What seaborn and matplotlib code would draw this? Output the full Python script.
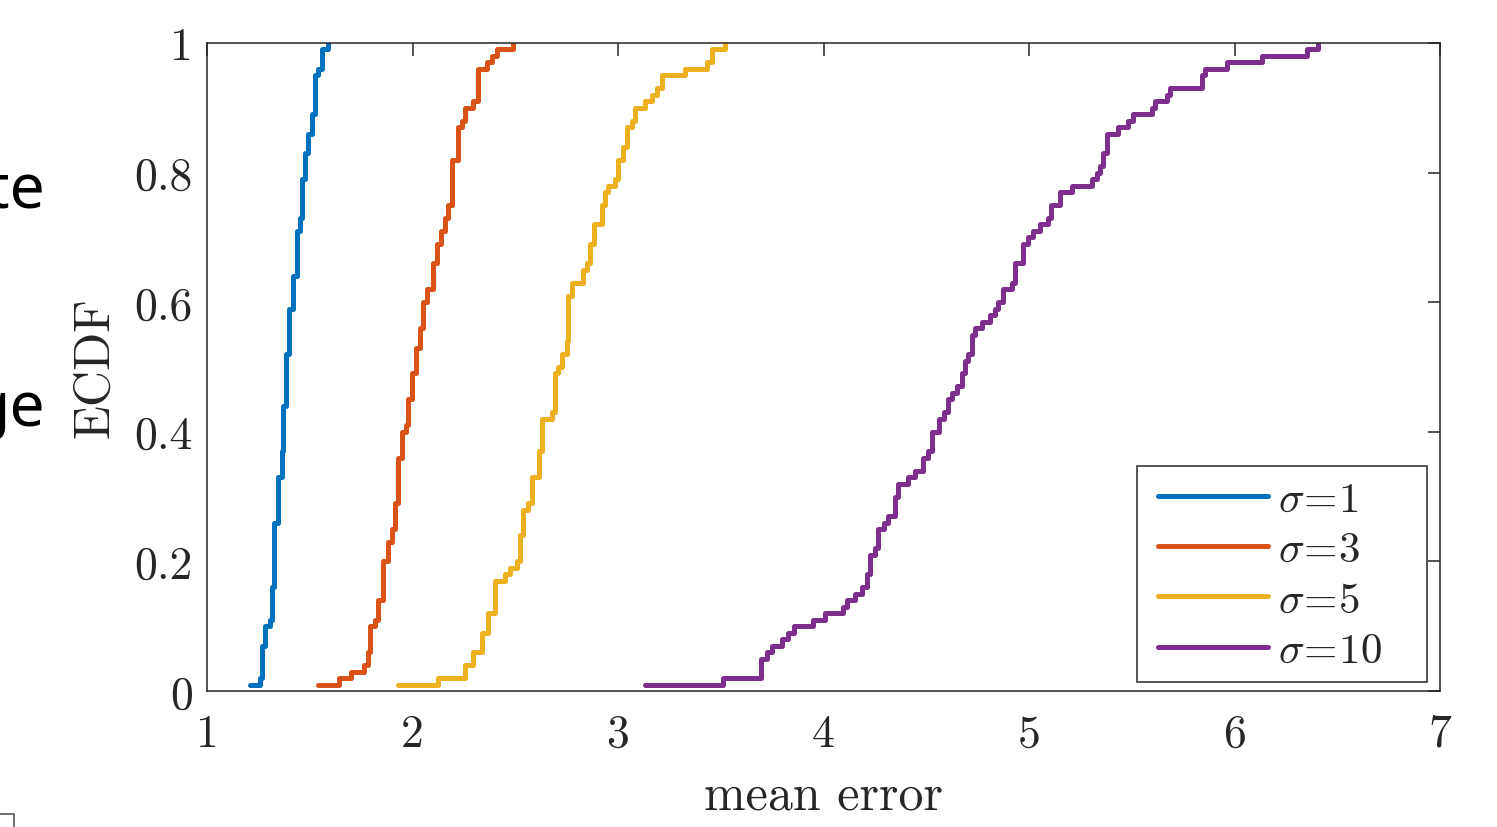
import numpy as np
import pandas as pd
import matplotlib
matplotlib.use("Agg")
import matplotlib.pyplot as plt
import seaborn as sns
from matplotlib.lines import Line2D
from matplotlib.patches import Rectangle
from matplotlib import font_manager

# ---------------- data (step vertices) ----------------
series_labels = [r"$\sigma\!=\!1$", r"$\sigma\!=\!3$", r"$\sigma\!=\!5$", r"$\sigma\!=\!10$"]
series_colors = ["#0072BD", "#D95319", "#EDB120", "#7E2F8E"]

x_sigma1 = [1.209, 1.258, 1.266, 1.282, 1.307, 1.315, 1.328, 1.347, 1.363, 1.371,
            1.384, 1.401, 1.420, 1.436, 1.453, 1.461, 1.477, 1.490, 1.509, 1.526,
            1.542, 1.558, 1.590]
y_sigma1 = [0.01, 0.02, 0.07, 0.10, 0.11, 0.16, 0.26, 0.33, 0.37, 0.44,
            0.52, 0.59, 0.64, 0.71, 0.73, 0.79, 0.83, 0.86, 0.89, 0.95,
            0.96, 0.99, 1.00]

x_sigma3 = [1.539, 1.644, 1.701, 1.766, 1.782, 1.793, 1.818, 1.834, 1.858, 1.879,
            1.902, 1.915, 1.931, 1.950, 1.968, 1.980, 1.999, 2.017, 2.036, 2.053,
            2.069, 2.101, 2.118, 2.139, 2.158, 2.174, 2.191, 2.223, 2.243, 2.255,
            2.296, 2.317, 2.361, 2.385, 2.410, 2.490]
y_sigma3 = [0.01, 0.02, 0.03, 0.04, 0.06, 0.10, 0.11, 0.14, 0.20, 0.23,
            0.25, 0.29, 0.36, 0.40, 0.41, 0.45, 0.49, 0.53, 0.56, 0.60,
            0.62, 0.66, 0.69, 0.71, 0.73, 0.75, 0.82, 0.87, 0.88, 0.90,
            0.91, 0.96, 0.97, 0.98, 0.99, 1.00]

x_sigma5 = [1.928, 2.126, 2.255, 2.296, 2.337, 2.369, 2.401, 2.450, 2.474, 2.507,
            2.523, 2.539, 2.564, 2.580, 2.616, 2.629, 2.677, 2.693, 2.709, 2.726,
            2.750, 2.758, 2.774, 2.831, 2.847, 2.864, 2.885, 2.921, 2.937, 2.953,
            2.985, 3.001, 3.026, 3.042, 3.067, 3.083, 3.131, 3.164, 3.188, 3.213,
            3.326, 3.432, 3.456, 3.520]
y_sigma5 = [0.01, 0.02, 0.04, 0.06, 0.09, 0.12, 0.17, 0.18, 0.19, 0.20,
            0.24, 0.28, 0.29, 0.33, 0.37, 0.42, 0.43, 0.49, 0.50, 0.52,
            0.54, 0.61, 0.63, 0.65, 0.66, 0.69, 0.72, 0.75, 0.77, 0.78,
            0.79, 0.82, 0.84, 0.87, 0.88, 0.90, 0.91, 0.92, 0.93, 0.95,
            0.96, 0.97, 0.99, 1.00]

x_sigma10 = [3.131, 3.513, 3.696, 3.723, 3.747, 3.797, 3.829, 3.858, 3.950, 4.007,
             4.096, 4.112, 4.153, 4.186, 4.210, 4.226, 4.251, 4.267, 4.292, 4.315,
             4.348, 4.364, 4.413, 4.445, 4.486, 4.510, 4.526, 4.563, 4.587, 4.608,
             4.624, 4.648, 4.672, 4.689, 4.705, 4.721, 4.737, 4.770, 4.810, 4.835,
             4.851, 4.875, 4.916, 4.932, 4.972, 4.997, 5.021, 5.054, 5.094, 5.106,
             5.151, 5.208, 5.305, 5.329, 5.345, 5.362, 5.378, 5.435, 5.483, 5.508,
             5.597, 5.613, 5.670, 5.686, 5.840, 5.856, 5.962, 6.132, 6.351, 6.408]
y_sigma10 = [0.01, 0.02, 0.05, 0.06, 0.07, 0.08, 0.09, 0.10, 0.11, 0.12,
             0.13, 0.14, 0.15, 0.16, 0.18, 0.21, 0.22, 0.25, 0.26, 0.27,
             0.30, 0.32, 0.33, 0.34, 0.36, 0.37, 0.40, 0.42, 0.43, 0.45,
             0.46, 0.47, 0.49, 0.51, 0.52, 0.55, 0.56, 0.57, 0.58, 0.59,
             0.60, 0.62, 0.63, 0.66, 0.69, 0.70, 0.71, 0.72, 0.73, 0.75,
             0.77, 0.78, 0.79, 0.80, 0.81, 0.83, 0.86, 0.87, 0.88, 0.89,
             0.90, 0.91, 0.92, 0.93, 0.95, 0.96, 0.97, 0.98, 0.99, 1.00]

x_ticks = [1, 2, 3, 4, 5, 6, 7]
x_tick_labels = ["1", "2", "3", "4", "5", "6", "7"]
y_ticks = [0, 0.2, 0.4, 0.6, 0.8, 1.0]
y_tick_labels = ["0", "0.2", "0.4", "0.6", "0.8", "1"]
x_label = "mean error"
y_label = "ECDF"
side_texts = ["te", "ge"]

# ---------------- build long table ----------------
frames = []
for lab, xs, ys in zip(series_labels,
                       [x_sigma1, x_sigma3, x_sigma5, x_sigma10],
                       [y_sigma1, y_sigma3, y_sigma5, y_sigma10]):
    frames.append(pd.DataFrame({"x": xs, "y": ys, "sigma": lab}))
df = pd.concat(frames, ignore_index=True)

# ---------------- style ----------------
sns.set_theme(style="white")
plt.rcParams.update({
    "font.family": "serif",
    "font.serif": ["cmr10", "DejaVu Serif"],
    "mathtext.fontset": "cm",
    "axes.unicode_minus": False,
    "axes.formatter.use_mathtext": True,
})

side_prop = font_manager.FontProperties(family="Noto Sans", size=45)

axcol = "#262626"
lw = 3.6
fig = plt.figure(figsize=(14.97, 8.28), dpi=100)
ax = fig.add_axes([207 / 1497, 1 - 692 / 828, (1440 - 207) / 1497, (692 - 44) / 828])

sns.lineplot(data=df, x="x", y="y", hue="sigma", hue_order=series_labels,
             palette=series_colors, estimator=None, sort=False,
             drawstyle="steps-post", linewidth=lw, ax=ax)

ax.set_xlim(1, 7)
ax.set_ylim(0, 1)
ax.set_xticks(x_ticks)
ax.set_xticklabels(x_tick_labels)
ax.set_yticks(y_ticks)
ax.set_yticklabels(y_tick_labels)
ax.tick_params(axis="both", direction="in", length=9, width=1.1, color=axcol,
               top=True, right=True, labelsize=33, labelcolor=axcol)
ax.tick_params(axis="x", pad=16)
ax.tick_params(axis="y", pad=10)
for s in ax.spines.values():
    s.set_visible(True)
    s.set_color(axcol)
    s.set_linewidth(1.1)

ax.set_xlabel(x_label, fontsize=36, color=axcol, labelpad=13)
ax.set_ylabel(y_label, fontsize=36, color=axcol, labelpad=12)

# legend box (MATLAB style, extra room on the right)
box = Rectangle(((1137 - 207) / 1233, (692 - 683) / 648),
                (1427 - 1137) / 1233, (683 - 467) / 648,
                transform=ax.transAxes, facecolor="white", edgecolor=axcol,
                linewidth=1.1, zorder=4.5)
ax.add_patch(box)

handles, labels = ax.get_legend_handles_labels()
leg = ax.legend(handles, labels, loc="upper left",
                bbox_to_anchor=((1158 - 207) / 1233, (692 - 482) / 648),
                borderaxespad=0, fontsize=31, frameon=False,
                handlelength=2.56, handletextpad=0.23, borderpad=0.0,
                labelspacing=0.28)
leg.set_zorder(6)
for h in leg.get_lines():
    h.set_linewidth(lw)
    h.set_drawstyle("default")

# cut-off slide text on the left
fig.text(45 / 1497, 1 - 207 / 828, side_texts[0], ha="right", va="baseline",
         fontproperties=side_prop, color="black")
fig.text(45 / 1497, 1 - 426 / 828, side_texts[1], ha="right", va="baseline",
         fontproperties=side_prop, color="black")
# fragment of a box in the bottom-left corner
fig.add_artist(Line2D([0, 14 / 1497, 14 / 1497], [1 - 815 / 828, 1 - 815 / 828, 0],
                      transform=fig.transFigure, color="#555555", linewidth=1.2))

fig.savefig("out.png", dpi=100)
